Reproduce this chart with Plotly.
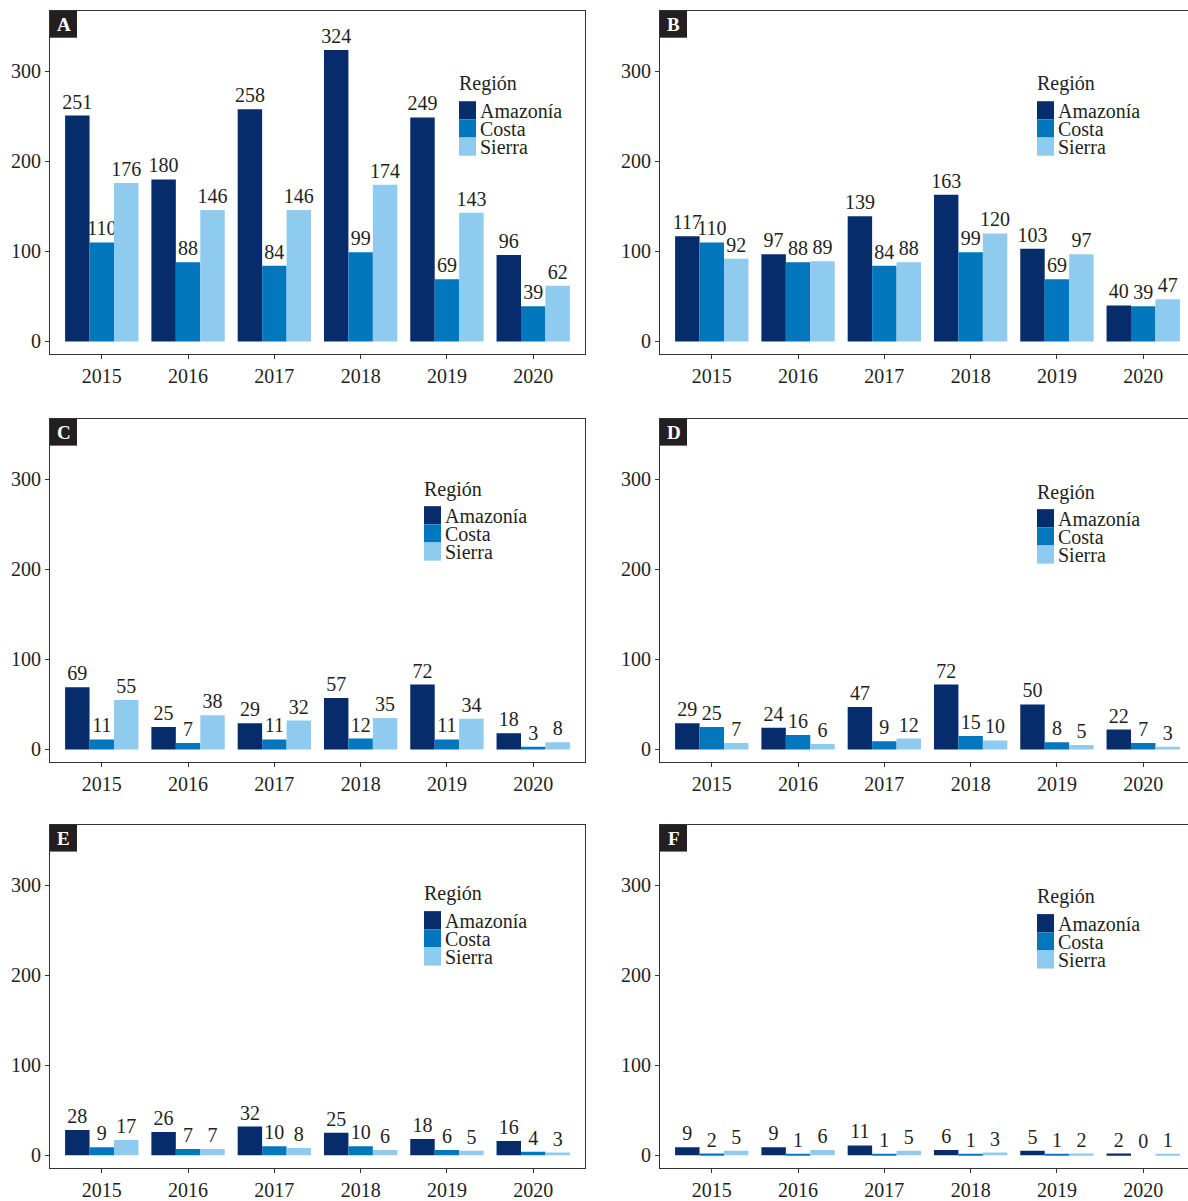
import plotly.graph_objects as go

# ---- data -------------------------------------------------------------
years = ["2015", "2016", "2017", "2018", "2019", "2020"]
regions = ["Amazonía", "Costa", "Sierra"]
colors = ["#062C6B", "#0277BD", "#8ECBEE"]

a_amazonia = [251, 180, 258, 324, 249, 96]
a_costa = [110, 88, 84, 99, 69, 39]
a_sierra = [176, 146, 146, 174, 143, 62]

b_amazonia = [117, 97, 139, 163, 103, 40]
b_costa = [110, 88, 84, 99, 69, 39]
b_sierra = [92, 89, 88, 120, 97, 47]

c_amazonia = [69, 25, 29, 57, 72, 18]
c_costa = [11, 7, 11, 12, 11, 3]
c_sierra = [55, 38, 32, 35, 34, 8]

d_amazonia = [29, 24, 47, 72, 50, 22]
d_costa = [25, 16, 9, 15, 8, 7]
d_sierra = [7, 6, 12, 10, 5, 3]

e_amazonia = [28, 26, 32, 25, 18, 16]
e_costa = [9, 7, 10, 10, 6, 4]
e_sierra = [17, 7, 8, 6, 5, 3]

f_amazonia = [9, 9, 11, 6, 5, 2]
f_costa = [2, 1, 1, 1, 1, 0]
f_sierra = [5, 6, 5, 3, 2, 1]

panel_letters = ["A", "B", "C", "D", "E", "F"]
panel_series = [
    [a_amazonia, a_costa, a_sierra],
    [b_amazonia, b_costa, b_sierra],
    [c_amazonia, c_costa, c_sierra],
    [d_amazonia, d_costa, d_sierra],
    [e_amazonia, e_costa, e_sierra],
    [f_amazonia, f_costa, f_sierra],
]
y_ticks = [0, 100, 200, 300]

# ---- layout geometry (pixels) -----------------------------------------
W, H = 1188, 1201
FONT = "Liberation Serif"
INK = "#231F20"
col_left = [50, 660]
col_right = [585, 1188]
row_top = [11, 422, 831]
row_bottom = [357, 768, 1177]
px_per_cat = (585 - 50) / 6.2
# legend placement: key left x, title centre y, first key top y
legend_pos = [(459, 84, 102), (1037, 84, 102),
              (424, 493, 510), (1037, 496, 513),
              (424, 900, 918), (1037, 903, 921)]


def px(x):
    return x / W


def py(y):
    return 1 - y / H


fig = go.Figure()
shapes = []
annotations = []
layout_axes = {}

for i, (letter, series) in enumerate(zip(panel_letters, panel_series)):
    r, c = divmod(i, 2)
    n = i + 1
    xa = "x" if n == 1 else f"x{n}"
    ya = "y" if n == 1 else f"y{n}"
    left, right = col_left[c], col_right[c]
    top, bottom = row_top[r], row_bottom[r]

    for name, vals, colr in zip(regions, series, colors):
        fig.add_trace(go.Bar(
            x=years, y=vals, name=name, marker_color=colr,
            marker_line_width=0, showlegend=False,
            text=[str(v) for v in vals], textposition="outside",
            textfont=dict(family=FONT, size=20, color=INK),
            constraintext="none", cliponaxis=False,
            xaxis=xa, yaxis=ya,
        ))

    x_hi = -0.6 + (right - left) / px_per_cat
    layout_axes["xaxis" if n == 1 else f"xaxis{n}"] = dict(
        domain=[px(left), px(right)], anchor=ya, type="category",
        range=[-0.6, x_hi], showline=True, linecolor="#333333",
        linewidth=1.2, mirror=True, ticks="outside", ticklen=4,
        tickcolor="#333333", tickfont=dict(family=FONT, size=20, color=INK),
        showgrid=False, zeroline=False, fixedrange=True,
    )
    layout_axes["yaxis" if n == 1 else f"yaxis{n}"] = dict(
        domain=[py(bottom), py(top)], anchor=xa,
        range=[-14.3, 367.3], tickvals=y_ticks, showline=True,
        linecolor="#333333", linewidth=1.2, mirror=(c == 0),
        ticks="outside", ticklen=4, tickcolor="#333333",
        tickfont=dict(family=FONT, size=20, color=INK),
        showgrid=False, zeroline=False, fixedrange=True,
    )

    # panel letter tag
    shapes.append(dict(type="rect", xref="paper", yref="paper",
                       x0=px(left), x1=px(left + 27), y0=py(top + 27), y1=py(top),
                       fillcolor=INK, line_width=0, layer="above"))
    annotations.append(dict(text=f"<b>{letter}</b>", xref="paper", yref="paper",
                            x=px(left + 13.5), y=py(top + 14), showarrow=False,
                            xanchor="center", yanchor="middle",
                            font=dict(family=FONT, size=19, color="white")))

    # legend: title, colour keys and labels
    kx, ty, ky = legend_pos[i]
    annotations.append(dict(text="Región", xref="paper", yref="paper",
                            x=px(kx - 2), y=py(ty), showarrow=False,
                            xanchor="left", yanchor="middle",
                            font=dict(family=FONT, size=20, color=INK)))
    for j, (name, colr) in enumerate(zip(regions, colors)):
        y0 = ky + j * 18.3
        shapes.append(dict(type="rect", xref="paper", yref="paper",
                           x0=px(kx), x1=px(kx + 17), y0=py(y0 + 18.3), y1=py(y0),
                           fillcolor=colr, line_width=0))
        annotations.append(dict(text=name, xref="paper", yref="paper",
                                x=px(kx + 19), y=py(y0 + 9.5), showarrow=False,
                                xanchor="left", yanchor="middle",
                                font=dict(family=FONT, size=20, color=INK)))

fig.update_layout(
    width=W, height=H, margin=dict(l=0, r=0, t=0, b=0),
    paper_bgcolor="white", plot_bgcolor="white",
    barmode="group", bargap=0.15, bargroupgap=0,
    font=dict(family=FONT, size=20, color=INK),
    shapes=shapes, annotations=annotations, showlegend=False,
    **layout_axes,
)

fig.write_html("out.html", config={"displayModeBar": False})
